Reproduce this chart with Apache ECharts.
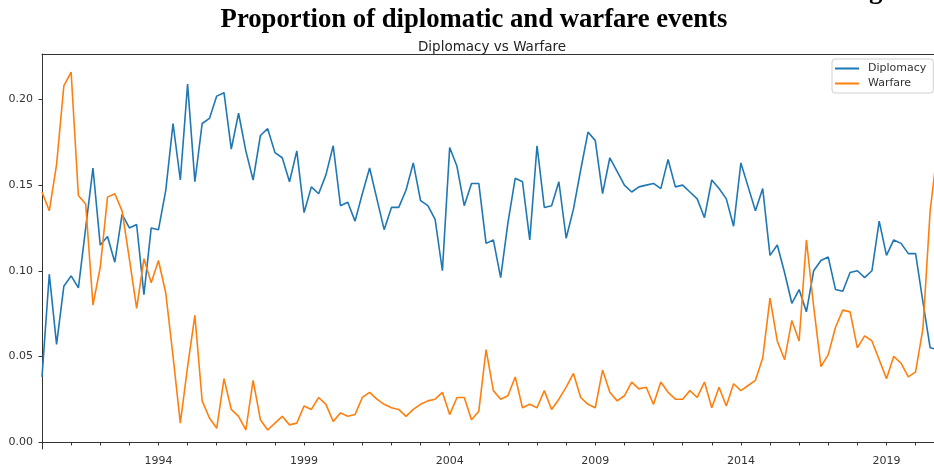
<!DOCTYPE html>
<html>
<head>
<meta charset="utf-8">
<script src="https://cdn.jsdelivr.net/npm/echarts@6/dist/echarts.min.js"></script>
<style>html,body{margin:0;padding:0;background:#fff;}#c{width:934px;height:467px;}</style>
</head>
<body>
<div id="c"></div>
<script>
const startYear = 1990;
const diplomacy = [
0.038,0.098,0.057,0.091,0.097,0.090,0.125,0.160,0.115,0.120,0.105,0.133,0.125,0.127,0.086,0.125,
0.124,0.147,0.186,0.153,0.209,0.152,0.186,0.189,0.202,0.204,0.171,0.192,0.170,0.153,0.179,0.183,
0.169,0.166,0.152,0.170,0.134,0.149,0.145,0.156,0.173,0.138,0.140,0.129,0.145,0.160,0.142,0.124,
0.137,0.137,0.147,0.163,0.141,0.138,0.130,0.100,0.172,0.161,0.138,0.151,0.151,0.116,0.118,0.096,
0.128,0.154,0.152,0.118,0.173,0.137,0.138,0.152,0.119,0.136,0.159,0.181,0.176,0.145,0.166,0.158,
0.150,0.146,0.149,0.150,0.151,0.148,0.165,0.149,0.150,0.146,0.142,0.131,0.153,0.148,0.142,0.126,
0.163,0.149,0.135,0.148,0.109,0.115,0.099,0.081,0.089,0.076,0.100,0.106,0.108,0.089,0.088,0.099,
0.100,0.096,0.100,0.129,0.109,0.118,0.116,0.110,0.110,0.082,0.055,0.054];
const warfare = [
0.146,0.135,0.162,0.208,0.216,0.144,0.139,0.080,0.102,0.143,0.145,0.135,0.107,0.078,0.107,0.093,
0.106,0.087,0.050,0.011,0.044,0.074,0.024,0.014,0.008,0.037,0.019,0.015,0.007,0.036,0.013,0.007,
0.011,0.015,0.010,0.011,0.021,0.019,0.026,0.022,0.012,0.017,0.015,0.016,0.026,0.029,0.025,0.022,
0.020,0.019,0.015,0.019,0.022,0.024,0.025,0.029,0.016,0.026,0.026,0.013,0.018,0.054,0.030,0.025,
0.027,0.038,0.020,0.022,0.020,0.030,0.019,0.025,0.032,0.040,0.026,0.022,0.020,0.042,0.029,0.024,
0.027,0.035,0.031,0.032,0.022,0.035,0.029,0.025,0.025,0.030,0.026,0.035,0.020,0.032,0.021,0.034,
0.030,0.033,0.036,0.049,0.084,0.059,0.048,0.071,0.059,0.118,0.079,0.044,0.051,0.067,0.077,0.076,
0.055,0.062,0.059,0.048,0.037,0.050,0.046,0.038,0.041,0.066,0.135,0.171];
const xTickLabels = [1994, 1999, 2004, 2009, 2014, 2019];
const yTickLabels = [0.00, 0.05, 0.10, 0.15, 0.20];
const seriesNames = ['Diplomacy', 'Warfare'];

// quarterly positions (decimal years)
const quarterPos = diplomacy.map((_, i) => startYear + i / 4);
const yearTicks = [];
for (let y = startYear; y <= 2020; y++) yearTicks.push(y);

const chart = echarts.init(document.getElementById('c'), null, {renderer: 'canvas'});
chart.setOption({
  animation: false,
  backgroundColor: '#fff',
  title: [
    {text: 'Proportion of diplomatic and warfare events', left: 469, top: 2, textAlign: 'center',
     textStyle: {fontFamily: 'Liberation Serif', fontWeight: 'bold', fontSize: 26.7, color: '#000'}},
    {text: 'Diplomacy vs Warfare', left: 487, top: 35, textAlign: 'center',
     textStyle: {fontFamily: 'DejaVu Sans', fontWeight: 'normal', fontSize: 13.5, color: '#222'}}
  ],
  graphic: [{
    type: 'text', left: 869, top: -22,
    style: {text: 'g', font: 'bold 27px "Liberation Serif"', fill: '#000'}
  }],
  legend: {
    data: seriesNames, orient: 'vertical', left: 832, top: 59,
    icon: 'rect', itemWidth: 24, itemHeight: 2, itemGap: 4,
    padding: [4, 7, 4, 3], borderColor: '#d0d0d0', borderWidth: 1, borderRadius: 3,
    backgroundColor: 'rgba(255,255,255,0.8)',
    textStyle: {fontFamily: 'DejaVu Sans', fontSize: 11, color: '#333', padding: [0, 0, 0, 4]}
  },
  grid: {left: 42, top: 54, right: 0, bottom: 17.7},
  xAxis: [{
    type: 'value', min: startYear, max: 2020.632,
    axisLine: {show: true, lineStyle: {color: '#333', width: 1}},
    axisTick: {show: true, customValues: yearTicks, length: 3.5, lineStyle: {color: '#333'}},
    axisLabel: {customValues: xTickLabels, fontFamily: 'DejaVu Sans', fontSize: 11, color: '#333', margin: 7,
      formatter: v => String(Math.round(v))},
    splitLine: {show: false}
  }, {
    type: 'value', position: 'top', min: startYear, max: 2020.632,
    axisLine: {show: true, lineStyle: {color: '#333', width: 1}},
    axisTick: {show: false}, axisLabel: {show: false}, splitLine: {show: false}
  }],
  yAxis: {
    type: 'value', min: -0.0041, max: 0.2266,
    axisLine: {show: true, lineStyle: {color: '#333', width: 1}},
    axisTick: {show: true, customValues: yTickLabels, length: 3.5, lineStyle: {color: '#333'}},
    axisLabel: {customValues: yTickLabels, fontFamily: 'DejaVu Sans', fontSize: 11, color: '#333', margin: 9,
      formatter: v => v.toFixed(2)},
    splitLine: {show: false}
  },
  series: [
    {name: seriesNames[0], type: 'line', showSymbol: false, color: '#1f77b4', clip: true,
     lineStyle: {width: 1.6, color: '#1f77b4'}, data: quarterPos.map((x, i) => [x, diplomacy[i]])},
    {name: seriesNames[1], type: 'line', showSymbol: false, color: '#ff7f0e', clip: true,
     lineStyle: {width: 1.6, color: '#ff7f0e'}, data: quarterPos.map((x, i) => [x, warfare[i]])}
  ]
});
</script>
</body>
</html>
